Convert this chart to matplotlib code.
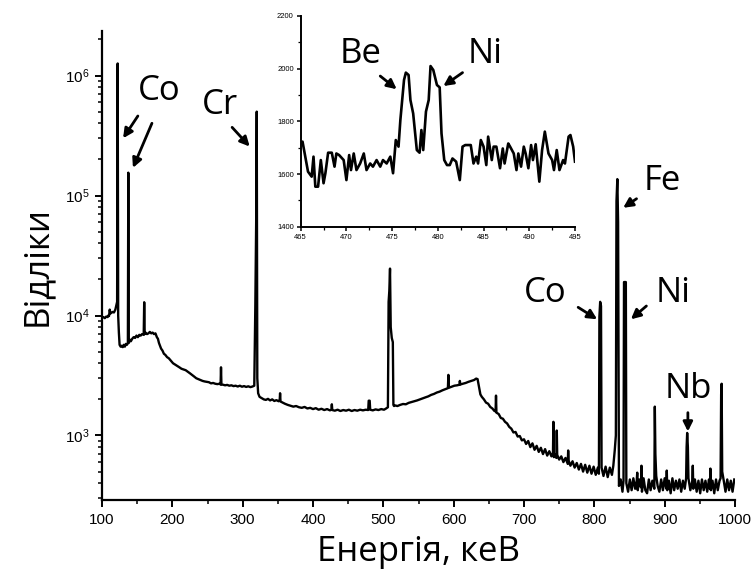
import numpy as np
import matplotlib
matplotlib.use('Agg')
import matplotlib.pyplot as plt
from matplotlib.ticker import MultipleLocator, LogLocator, NullFormatter, FixedLocator

# ---------------- data ----------------
energy_low = [100, 102, 104, 106, 108, 109, 110, 111, 112, 113, 115, 117, 119, 120.5, 121.5,
              122.3, 123.0, 124.0, 125.0, 126.5, 128, 129.5, 131, 132.5, 134, 135.5, 136.8,
              137.4, 138.0, 139.5, 141, 143, 145, 147, 149, 151, 153, 155, 157, 159.3,
              160.0, 160.7, 162, 164, 166, 168, 170, 172, 174, 176, 178, 179.5, 181, 182.5,
              184, 186, 188, 190, 192.5, 195, 198, 201, 204, 207, 210, 213, 216, 219, 222,
              225, 228, 231, 234, 237, 240, 243, 246, 249, 252, 255, 258, 261, 264, 267,
              268.6, 269.2, 269.8, 272, 275, 278, 281, 284, 287, 290, 293, 296, 299, 302,
              305, 308, 311, 314, 316.5, 318.0, 319.2, 320.0, 320.8, 322, 324, 327, 330]
counts_low = [9600, 9700, 9500, 9800, 9700, 10000, 9900, 11200, 10400, 10500, 10700, 10600,
              11200, 12200, 13000,
              1.26e6, 10000, 7200, 5700, 5500, 5600, 5450, 5700, 5500, 5800, 5700, 5900,
              1.55e5, 5900, 6300, 6100, 6400, 6600, 6500, 6800, 6600, 6900, 6800, 7000, 6900,
              12900, 7000, 7200, 7000, 7100, 7300, 7100, 7200, 7000, 7100, 6600, 6400, 5900,
              5600, 5300, 5100, 4800, 4700, 4500, 4400, 4200, 4000, 3900, 3800, 3700, 3600,
              3550, 3500, 3400, 3300, 3200, 3100, 3000, 2950, 2900, 2850, 2820, 2800, 2780,
              2720, 2740, 2700, 2680, 2700,
              2660, 3700, 2660, 2650, 2620, 2640, 2600, 2620, 2580, 2600, 2560, 2600, 2550,
              2580, 2540, 2570, 2530, 2560, 2600, 12000, 60000, 5.0e5, 3000, 2250, 2100,
              2050, 2000]

energy_mid = [333, 336, 339, 342, 345, 348, 351, 352.6, 353.2, 353.8, 357, 360, 364, 368, 372,
              376, 380, 384, 388, 392, 396, 400, 404, 408, 412, 416, 420, 424, 426.2, 426.8,
              427.4, 431, 435, 439, 443, 447, 451, 455, 459, 463, 467, 471, 475, 478.5, 479.2,
              480.6, 481.3, 485, 489, 493, 497, 501, 504, 506.5, 507.5, 508.5, 509.5, 510.5,
              512.0, 513.5, 514.3, 515.2, 517, 520, 524, 528, 532, 536, 540, 544, 548, 552,
              556, 560, 564, 568, 572, 576, 580, 584, 588, 591.8, 592.5, 593.2, 597, 601, 605,
              608.2, 608.8, 609.5, 613, 617, 621, 625, 629, 632, 634, 636, 638, 640]
counts_mid = [1980, 2020, 1960, 2000, 1940, 1970, 1930, 1950, 2250, 1920, 1880, 1840, 1800,
              1770, 1740, 1760, 1720, 1700, 1730, 1680, 1700, 1660, 1690, 1640, 1670, 1630,
              1660, 1620, 1640, 1820, 1630, 1610, 1640, 1600, 1630, 1610, 1640, 1600, 1630,
              1610, 1640, 1620, 1640, 1630, 1950, 1950, 1640, 1620, 1650, 1630, 1660, 1640,
              1680, 1720, 13000, 16000, 24600, 8000, 6500, 6000, 1800, 1760, 1780, 1760,
              1800, 1830, 1820, 1870, 1900, 1930, 1960, 2000, 2040, 2080, 2120, 2180, 2220,
              2280, 2320, 2380, 2430, 2480, 3200, 2500, 2550, 2600, 2620, 2650, 2850, 2660,
              2700, 2740, 2800, 2850, 2900, 2980, 2950, 2550, 2200, 2100]

energy_high = [643, 646, 649, 652, 655, 658, 659.6, 660.2, 660.8, 664, 667, 670, 673, 676, 679,
               682, 685, 688, 691, 694, 697, 700, 703, 706, 709, 712, 715, 718, 721, 724, 727,
               730, 733, 736, 739, 741.2, 741.8, 742.4, 744, 746.0, 746.6, 747.2, 750, 753,
               756, 759, 762.2, 762.8, 763.4, 766, 769, 772, 775, 778, 781, 784, 787, 790, 793,
               796, 799, 802, 805, 806.5, 807.2, 808.3, 809.5, 810.3, 813, 816, 819, 822, 825,
               827, 829, 830.6, 831.5, 832.7, 833.8, 835.0]
counts_high = [2000, 1880, 1840, 1730, 1680, 1600, 1590, 2150, 1550, 1510, 1400, 1380, 1300,
               1260, 1180, 1140, 1060, 1070, 980, 990, 910, 930, 850, 900, 800, 860, 760, 820,
               730, 790, 700, 770, 680, 740, 670, 720, 1300, 660, 700, 650, 1100, 690, 630, 670,
               600, 650, 580, 750, 620, 560, 610, 540, 590, 520, 580, 500, 570, 490, 560, 480,
               550, 470, 540, 480, 9800, 13000, 12000, 540, 460, 550, 450, 540, 470, 560, 750,
               1000, 90000, 1.37e5, 60000, 380]

energy_tail = [837.5, 840, 841.5, 842.2, 844.8, 845.5, 848, 850.5, 853, 855.5, 858, 860.3, 861,
               861.7, 864, 866.3, 867, 867.7, 870, 872.5, 875, 877.5, 880, 882.5, 885.3, 886,
               886.8, 888, 890, 892.5, 895, 897.5, 900, 902.3, 903, 903.7, 906, 908.5, 911,
               913.5, 916, 918.5, 921, 923.5, 926, 928.5, 930.5, 931.2, 932, 933, 933.8, 936.5,
               939.3, 940, 940.7, 943, 945.5, 948, 950.5, 953, 955.5, 958, 960.5, 963, 964.3,
               965, 965.7, 968, 970.5, 973, 975.5, 978, 979.5, 980.3, 981, 981.8, 984, 986.5,
               989, 991.5, 994, 996.5, 999]
counts_tail = [430, 340, 420, 19000, 19000, 400, 340, 430, 350, 440, 360, 420, 490, 350, 430,
               370, 560, 340, 440, 350, 330, 430, 350, 420, 360, 1740, 700, 460, 380, 340, 430,
               350, 440, 360, 510, 350, 420, 330, 440, 350, 420, 360, 430, 340, 420, 360, 440,
               800, 1050, 800, 440, 350, 420, 560, 360, 430, 340, 420, 330, 430, 350, 420, 340,
               430, 360, 530, 350, 420, 330, 430, 350, 420, 440, 2200, 2700, 500, 420, 340,
               430, 350, 420, 340, 430]

inset_energy = [465.0, 465.2, 465.5, 465.8, 466.2, 466.4, 466.6, 466.9, 467.2, 467.5, 467.7,
                468.0, 468.4, 468.7, 468.9, 469.2, 469.7, 470.0, 470.3, 470.5, 470.8, 471.1,
                471.5, 471.9, 472.2, 472.6, 472.9, 473.3, 473.7, 474.0, 474.4, 474.8, 475.1,
                475.4, 475.7, 475.9, 476.3, 476.5, 476.8, 477.0, 477.3, 477.7, 478.0, 478.2,
                478.4, 478.7, 479.0, 479.2, 479.5, 479.9, 480.2, 480.4, 480.7, 481.0, 481.3,
                481.6, 482.0, 482.4, 482.7, 483.0, 483.3, 483.6, 483.9, 484.2, 484.4, 484.7,
                485.0, 485.3, 485.5, 485.9, 486.1, 486.4, 486.8, 487.1, 487.3, 487.7, 487.9,
                488.3, 488.6, 488.8, 489.1, 489.4, 489.6, 489.9, 490.2, 490.4, 490.7, 491.1,
                491.4, 491.7, 492.1, 492.5, 492.7, 493.0, 493.3, 493.7, 493.9, 494.3, 494.5,
                494.8, 495.0]
inset_counts = [1716, 1723, 1666, 1609, 1590, 1666, 1552, 1552, 1653, 1565, 1603, 1681, 1681,
                1628, 1678, 1672, 1653, 1577, 1672, 1615, 1678, 1615, 1640, 1678, 1615, 1640,
                1628, 1653, 1628, 1653, 1640, 1666, 1603, 1729, 1704, 1805, 1957, 1985, 1976,
                1881, 1830, 1691, 1681, 1767, 1691, 1837, 1881, 2010, 1995, 1938, 1929, 1754,
                1653, 1634, 1634, 1659, 1647, 1577, 1704, 1710, 1710, 1710, 1640, 1666, 1640,
                1729, 1704, 1634, 1742, 1653, 1704, 1704, 1622, 1697, 1640, 1716, 1704, 1678,
                1615, 1678, 1628, 1704, 1678, 1622, 1710, 1653, 1713, 1571, 1691, 1761, 1678,
                1653, 1615, 1691, 1615, 1653, 1640, 1742, 1748, 1704, 1647]

x_ticks = [100, 200, 300, 400, 500, 600, 700, 800, 900, 1000]
inset_x_ticks = [465, 470, 475, 480, 485, 490, 495]
inset_y_ticks = [1400, 1600, 1800, 2000, 2200]

# ---------------- style ----------------
plt.rcParams['mathtext.fontset'] = 'custom'
plt.rcParams['mathtext.rm'] = 'Liberation Sans'
plt.rcParams['mathtext.default'] = 'regular'
plt.rcParams['font.family'] = ['Liberation Sans', 'DejaVu Sans']

BIG = dict(family=['Open Sans', 'DejaVu Sans'], fontsize=25)

fig = plt.figure(figsize=(7.55, 5.8), dpi=100)
W, H = 755.0, 580.0
ax = fig.add_axes([102 / W, 80 / H, 633 / W, 469 / H])

E = np.concatenate([energy_low, energy_mid, energy_high, energy_tail])
C = np.concatenate([counts_low, counts_mid, counts_high, counts_tail])
ax.plot(E, C, color='black', lw=1.7)

ax.set_yscale('log')
ax.set_xlim(100, 1000)
ax.set_ylim(290, 2.35e6)
ax.xaxis.set_major_locator(FixedLocator(x_ticks))
ax.xaxis.set_minor_locator(MultipleLocator(50))
ax.yaxis.set_major_locator(LogLocator(base=10, numticks=10))
ax.yaxis.set_minor_locator(LogLocator(base=10, subs=np.arange(2, 10), numticks=20))
ax.yaxis.set_minor_formatter(NullFormatter())

for s in ['top', 'right']:
    ax.spines[s].set_visible(False)
for s in ['left', 'bottom']:
    ax.spines[s].set_linewidth(1.6)
ax.tick_params(which='major', direction='out', length=5, width=1.4, labelsize=11, pad=4)
ax.tick_params(which='minor', direction='out', length=3, width=1.1)

ax.set_xlabel('Енергія, кеВ', labelpad=6, **BIG)
ax.set_ylabel('Відліки', labelpad=8, **BIG)

arrow = dict(arrowstyle='-|>', lw=2.0, color='black', mutation_scale=14, shrinkA=0, shrinkB=0)

def note(text, tx, ty, arrows, axis=ax):
    axis.text(tx, ty, text, ha='center', va='center', **BIG)
    for (x0, y0, x1, y1) in arrows:
        axis.annotate('', xy=(x1, y1), xytext=(x0, y0), arrowprops=arrow)

note('Co', 181, 7.5e5, [(151, 4.6e5, 130, 3.0e5), (171, 4.0e5, 144, 1.7e5)])
note('Cr', 268, 5.7e5, [(285, 3.7e5, 310, 2.56e5)])
note('Co', 730, 1.55e4, [(777, 1.17e4, 804, 9.3e3)])
note('Ni', 912, 1.55e4, [(874, 1.2e4, 852, 9.3e3)])
note('Fe', 896, 1.33e5, [(860, 9.4e4, 841, 7.9e4)])
note('Nb', 933, 2.42e3, [(933, 1.55e3, 933, 1.08e3)])

# ---------------- inset ----------------
axi = fig.add_axes([300.7 / W, (H - 226.7) / H, 274.3 / W, 210.7 / H])
axi.plot(inset_energy, inset_counts, color='black', lw=1.9)
axi.set_xlim(465, 495)
axi.set_ylim(1400, 2200)
axi.xaxis.set_major_locator(FixedLocator(inset_x_ticks))
axi.xaxis.set_minor_locator(MultipleLocator(2.5))
axi.yaxis.set_major_locator(FixedLocator(inset_y_ticks))
axi.yaxis.set_minor_locator(MultipleLocator(100))
for s in ['top', 'right']:
    axi.spines[s].set_visible(False)
for s in ['left', 'bottom']:
    axi.spines[s].set_linewidth(1.4)
axi.tick_params(which='major', direction='out', length=3, width=1.1, labelsize=5.5, pad=2)
axi.tick_params(which='minor', direction='out', length=2, width=0.9)
axi.patch.set_alpha(0)

note('Be', 471.5, 2056, [(473.7, 1972, 475.5, 1922)], axis=axi)
note('Ni', 485.2, 2056, [(482.7, 1985, 480.6, 1934)], axis=axi)

fig.savefig('out.png', dpi=100)
